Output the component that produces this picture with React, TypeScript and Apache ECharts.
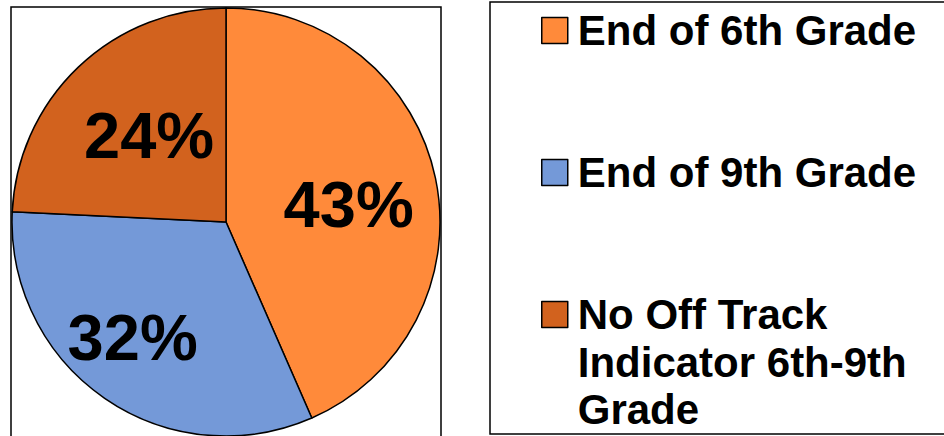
import React, { useEffect, useRef } from "react";
import * as echarts from "echarts";

// Share of students by when they first go off track
const categories = [
  "End of 6th Grade",
  "End of 9th Grade",
  "No Off Track Indicator 6th-9th Grade",
];
const shares = [43, 32, 24];
const sliceColors = ["#FF8A3A", "#7499D8", "#D2621E"];

// legend line breaks for the long category
const legendLines: Record<string, string[]> = {
  "No Off Track Indicator 6th-9th Grade": ["No Off Track", "Indicator 6th-9th", "Grade"],
};

// nudges for the in-slice percentage labels
const labelNudge = [
  { dx: 15, dy: 5 },
  { dx: -31, dy: 25 },
  { dx: -1, dy: -7 },
];

const FONT = "'Liberation Sans', Arial, Helvetica, sans-serif";
const LEGEND_SIZE = 42;
const LEGEND_LH = 47.5;
const MARK = 26;

export default function App() {
  const ref = useRef<HTMLDivElement>(null);

  useEffect(() => {
    if (!ref.current) return;
    const chart = echarts.init(ref.current, undefined, { renderer: "svg" });

    // vertical centre of each legend marker
    const markerCentres = [30.5, 172.5, 314.5];
    const legends = categories.map((name, i) => {
      const lines = legendLines[name] || [name];
      // the text block is centred on the marker; blank lines below the
      // first one are balanced by blank lines above it
      const padded = [...Array(lines.length - 1).fill(" "), ...lines];
      const blockH = Math.max(padded.length * LEGEND_LH, MARK);
      return {
        data: [name],
        orient: "vertical",
        left: 541,
        top: markerCentres[i] - blockH / 2,
        padding: 0,
        itemWidth: MARK,
        itemHeight: MARK,
        icon: "rect",
        itemStyle: { borderColor: "#000", borderWidth: 1.5 },
        formatter: () => padded.map((l) => `{t|${l}}`).join("\n"),
        textStyle: {
          fontFamily: FONT,
          fontWeight: "bold",
          fontSize: LEGEND_SIZE,
          lineHeight: LEGEND_LH,
          color: "#000",
          rich: {
            t: {
              fontFamily: FONT,
              fontWeight: "bold",
              fontSize: LEGEND_SIZE,
              lineHeight: LEGEND_LH,
              color: "#000",
              padding: [0, 0, 0, 5],
            },
          },
        },
        selectedMode: false,
      };
    });

    chart.setOption({
      animation: false,
      backgroundColor: "#fff",
      graphic: [
        {
          type: "rect",
          shape: { x: 11, y: 7, width: 430, height: 445 },
          style: { fill: "none", stroke: "#000", lineWidth: 1.5 },
          z: -1,
        },
        {
          type: "rect",
          shape: { x: 490, y: 2, width: 470, height: 432 },
          style: { fill: "none", stroke: "#000", lineWidth: 1.5 },
          z: -1,
        },
      ],
      legend: legends,
      series: [
        {
          type: "pie",
          center: [226, 222],
          radius: 214,
          startAngle: 90,
          clockwise: true,
          silent: true,
          data: categories.map((name, i) => ({
            name,
            value: shares[i],
            itemStyle: { color: sliceColors[i] },
          })),
          itemStyle: { borderColor: "#000", borderWidth: 1.5 },
          label: {
            show: true,
            position: "inside",
            formatter: (p: any) => `${p.value}%`,
            fontFamily: FONT,
            fontWeight: "bold",
            fontSize: 65,
            color: "#000",
          },
          labelLine: { show: false },
          labelLayout: (p: any) => labelNudge[p.dataIndex],
        },
      ],
    });

    return () => chart.dispose();
  }, []);

  return (
    <div
      ref={ref}
      style={{ position: "fixed", left: 0, top: 0, width: 944, height: 436 }}
    />
  );
}
